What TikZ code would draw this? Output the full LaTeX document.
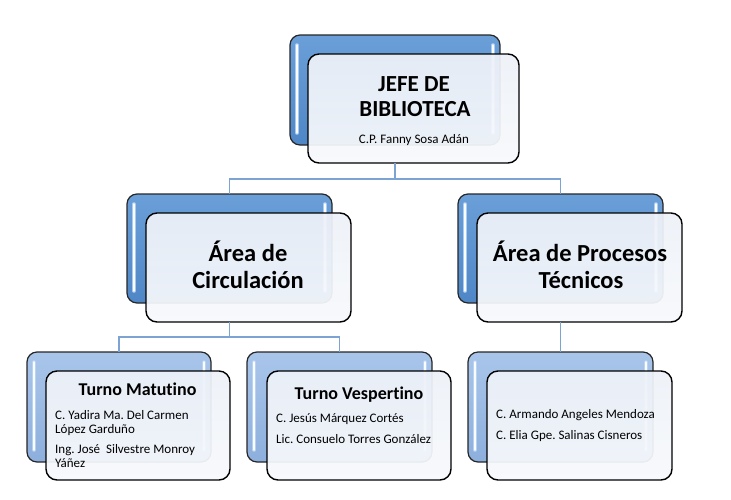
\documentclass[tikz,border=0pt]{standalone}
\usepackage{fontspec}
\setmainfont{Carlito}[Ligatures=NoCommon]
\frenchspacing
\definecolor{bluetop}{HTML}{6A9FD8}
\definecolor{bluebot}{HTML}{4F86C6}
\definecolor{ltop}{HTML}{A9C5EA}
\definecolor{lbot}{HTML}{8DAFDD}
\definecolor{frontfill}{HTML}{EDF1F8}
\definecolor{frontbot}{HTML}{F7F9FC}
\definecolor{conncol}{HTML}{7DA3D3}
\definecolor{glow}{HTML}{BFD8F5}
\begin{document}
\begin{tikzpicture}[x=1pt,y=-1pt,
  backbox/.style={draw=black!85, line width=1.2pt, rounded corners=10pt, inner sep=0pt, outer sep=0pt, rectangle},
  darkback/.style={backbox, top color=bluetop, bottom color=bluebot},
  lightback/.style={backbox, top color=ltop, bottom color=lbot},
  frontbox/.style={draw=black, line width=1.4pt, rounded corners=11pt, inner sep=0pt, outer sep=0pt, rectangle, top color=frontfill, bottom color=frontbot, fill opacity=0.94, draw opacity=1},
  conn/.style={draw=conncol, line width=1.5pt},
  bigtitle/.style={font=\fontsize{23}{24}\selectfont\bfseries, anchor=base, inner sep=0pt},
  midtitle/.style={font=\fontsize{24.5}{27}\selectfont\bfseries, anchor=base, inner sep=0pt},
  smalltitle/.style={font=\fontsize{18}{20}\selectfont\bfseries, anchor=base, inner sep=0pt},
  person/.style={font=\fontsize{13}{14}\selectfont, anchor=base west, inner sep=0pt},
  personc/.style={font=\fontsize{13}{14}\selectfont, anchor=base, inner sep=0pt},
  stripeglow/.style={draw=glow, line width=3.6pt, line cap=round, opacity=0.8},
  stripe/.style={draw=white, line width=1.6pt, line cap=round, opacity=0.95}
]
\useasboundingbox (0,0) rectangle (731,499);

% back boxes
\node[darkback, minimum width=210pt, minimum height=110pt] (b1) at (395,90) {};
\node[darkback, minimum width=205pt, minimum height=109pt] (b2) at (229.5,248.5) {};
\node[darkback, minimum width=205pt, minimum height=109pt] (b3) at (560.5,248.5) {};
\node[lightback, minimum width=184pt, minimum height=110pt] (b4) at (119,407) {};
\node[lightback, minimum width=185pt, minimum height=110pt] (b5) at (339.5,407) {};
\node[lightback, minimum width=185pt, minimum height=110pt] (b6) at (560.5,407) {};

% highlight stripes
\foreach \b in {b1,b2,b3,b4,b5,b6}{
  \draw[stripeglow] ([xshift=7pt,yshift=-10pt]\b.north west) -- ([xshift=7pt,yshift=12pt]\b.south west);
  \draw[stripe] ([xshift=7pt,yshift=-10pt]\b.north west) -- ([xshift=7pt,yshift=12pt]\b.south west);
  \draw[stripeglow] ([xshift=-7pt,yshift=-10pt]\b.north east) -- ([xshift=-7pt,yshift=12pt]\b.south east);
  \draw[stripe] ([xshift=-7pt,yshift=-10pt]\b.north east) -- ([xshift=-7pt,yshift=12pt]\b.south east);
}

% front boxes
\node[frontbox, minimum width=211pt, minimum height=109pt] (f1) at (413.5,108.5) {};
\node[frontbox, minimum width=205pt, minimum height=109pt] (f2) at (248.5,267.5) {};
\node[frontbox, minimum width=205pt, minimum height=109pt] (f3) at (579.5,267.5) {};
\node[frontbox, minimum width=184pt, minimum height=109pt] (f4) at (138,425.5) {};
\node[frontbox, minimum width=184pt, minimum height=109pt] (f5) at (359,425.5) {};
\node[frontbox, minimum width=185pt, minimum height=109pt] (f6) at (579.5,425.5) {};

% connectors
\draw[conn] (b1.south |- f1.south) -- ++(0,16) coordinate (bus1) -| (b2.north);
\draw[conn] (bus1) -| (b3.north);
\draw[conn] (b2.south |- f2.south) -- ++(0,15) coordinate (bus2) -| (b4.north);
\draw[conn] (bus2) -| (b5.north);
\draw[conn] (b3.south |- f3.south) -- (b6.north);

% texts top
\node[bigtitle] (t1a) at (414,91.5) {JEFE DE};
\node[bigtitle] (t1b) at (415,116) {BIBLIOTECA};
\node[personc] (t1c) at (414,143.5) {C.P. Fanny Sosa Adán};

% middle
\node[midtitle] (t2a) at (248,261) {Área de};
\node[midtitle] (t2b) at (248,288) {Circulación};
\node[midtitle] (t3a) at (580,261) {Área de Procesos};
\node[midtitle] (t3b) at (581,288) {Técnicos};

% bottom left
\node[smalltitle] (t4a) at (137.5,395) {Turno Matutino};
\node[person] (t4b) at (55,419) {C. Yadira Ma. Del Carmen};
\node[person] (t4c) at (55,433) {López Garduño};
\node[person] (t4d) at (55,453.5) {Ing. José\ \ Silvestre Monroy};
\node[person] (t4e) at (55,467.5) {Yáñez};

% bottom middle
\node[smalltitle] (t5a) at (359,399) {Turno Vespertino};
\node[person] (t5b) at (276,422.5) {C. Jesús Márquez Cortés};
\node[person] (t5c) at (276,443.5) {Lic. Consuelo Torres González};

% bottom right
\node[person] (t6a) at (496,418.5) {C. Armando Angeles Mendoza};
\node[person] (t6b) at (496,439.5) {C. Elia Gpe. Salinas Cisneros};
\end{tikzpicture}
\end{document}
